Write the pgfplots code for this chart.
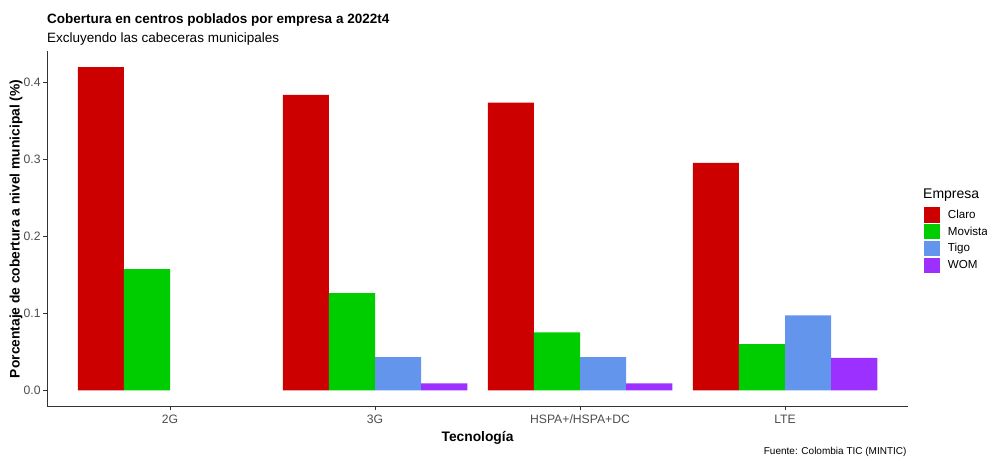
\documentclass[border=0pt]{standalone}
\usepackage{pgfplots}
\pgfplotsset{compat=1.18}
\usepackage{fontspec}
\setmainfont{Liberation Sans}
\definecolor{claro}{HTML}{CD0000}
\definecolor{movistar}{HTML}{00CD00}
\definecolor{tigo}{HTML}{6495ED}
\definecolor{wom}{HTML}{9B30FF}
\definecolor{tickgray}{HTML}{4D4D4D}
\definecolor{axgray}{HTML}{333333}
\begin{document}
\begin{tikzpicture}[x=1bp,y=1bp]
\path[use as bounding box] (0,0) rectangle (987,458);
\begin{axis}[
  at={(47bp,51.3bp)}, anchor=south west,
  width=861bp, height=355.7bp, scale only axis,
  xmin=0.4, xmax=4.6, ymin=-0.0213, ymax=0.44,
  axis lines*=left,
  axis line style={axgray, line width=0.6bp},
  xtick={1,2,3,4},
  xticklabels={2G,3G,HSPA+/HSPA+DC,LTE},
  ytick={0,0.1,0.2,0.3,0.4},
  /pgf/number format/fixed, /pgf/number format/fixed zerofill,
  /pgf/number format/precision=1, /pgf/number format/assume math mode=true,
  tick align=outside,
  major tick length=3.7bp,
  tick style={axgray, line width=0.6bp},
  ticklabel style={font=\fontsize{12.2bp}{14bp}\selectfont, text=tickgray},
  xticklabel style={inner sep=0pt, yshift=-4.5bp},
  yticklabel style={inner sep=0pt, xshift=-2.5bp},
  xlabel={\bfseries Tecnología},
  ylabel={\bfseries Porcentaje de cobertura a nivel municipal (\%)},
  label style={font=\fontsize{13.8bp}{15bp}\selectfont},
  xlabel style={at={(axis description cs:0.5,-0.0984)}, anchor=base, inner sep=0pt},
  ylabel style={at={(axis description cs:-0.0319,0.5)}, anchor=base, inner sep=0pt},
  ybar, bar width=0.225,
  clip=false,
  legend style={at={(1.0178,0.5606)}, anchor=north west, draw=none, fill=none, inner sep=0pt,
    font=\fontsize{11.6bp}{13bp}\selectfont, row sep=1.5bp,
    nodes={inner sep=0pt}},
  legend cell align=left,
  legend image code/.code={\fill (0bp,-7.6bp) rectangle (16.7bp,7.6bp);},
]
\addplot[fill=claro, draw=none, bar shift=-0.3375] coordinates {(1,0.419) (2,0.383) (3,0.373) (4,0.295)};
\addplot[fill=movistar, draw=none, bar shift=-0.1125] coordinates {(1,0.157) (2,0.126) (3,0.075) (4,0.060)};
\addplot[fill=tigo, draw=none, bar shift=0.1125] coordinates {(2,0.043) (3,0.043) (4,0.097)};
\addplot[fill=wom, draw=none, bar shift=0.3375] coordinates {(2,0.009) (3,0.009) (4,0.042)};
\legend{\hspace{7.7bp}Claro,\hspace{7.7bp}Movistar,\hspace{7.7bp}Tigo,\hspace{7.7bp}WOM}
\end{axis}
\node[anchor=base west, inner sep=0pt, font=\fontsize{13.5bp}{15bp}\selectfont\bfseries] at (47,434) {Cobertura en centros poblados por empresa a 2022t4};
\node[anchor=base west, inner sep=0pt, font=\fontsize{13.5bp}{15bp}\selectfont] at (47,415.7) {Excluyendo las cabeceras municipales};
\node[anchor=base west, inner sep=0pt, font=\fontsize{14bp}{15bp}\selectfont] at (923,259) {Empresa};
\node[anchor=base east, inner sep=0pt, font=\fontsize{10bp}{11bp}\selectfont] at (906.7,3.7) {Fuente: Colombia TIC (MINTIC)};
\end{tikzpicture}
\end{document}
